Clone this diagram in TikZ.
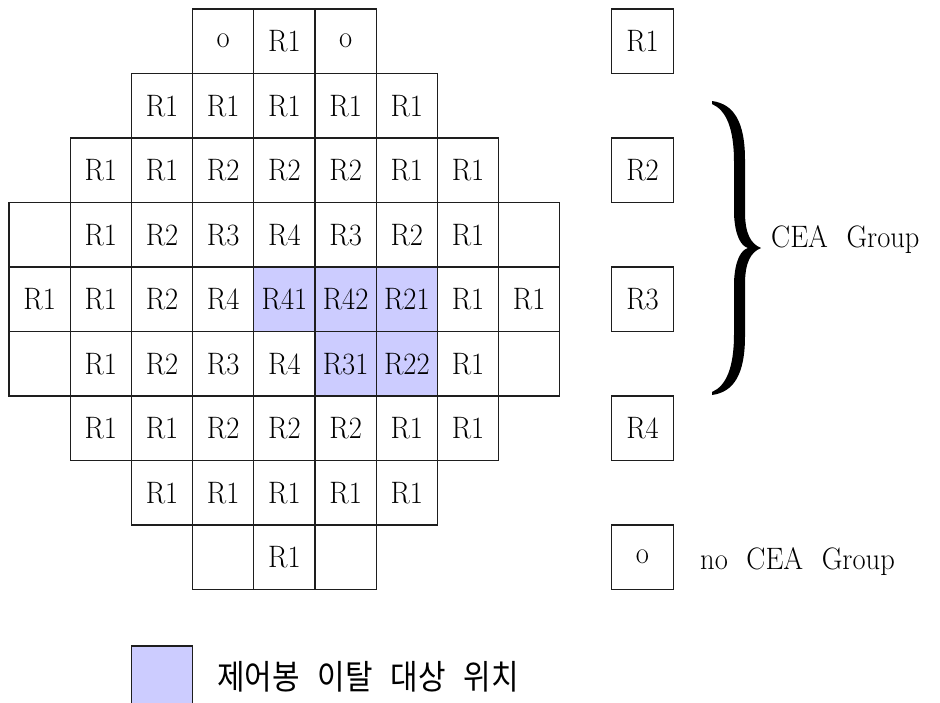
\documentclass[tikz,border=0pt]{standalone}
\usepackage{fontspec}
\setmainfont{Latin Modern Roman}[FakeStretch=0.92]
\newfontfamily\krfont{Noto Sans CJK KR}[FakeStretch=0.88]
\definecolor{lav}{RGB}{204,204,255}
\definecolor{ink}{RGB}{30,30,30}
\begin{document}
\begin{tikzpicture}[x=1pt,y=-1pt,
  cell/.style={draw=ink, line width=1.2pt, minimum width=61.2pt, minimum height=64.5pt, inner sep=0pt, font=\fontsize{31}{36}\selectfont},
  hit/.style={cell, fill=lav},
  legbox/.style={cell, minimum width=61.6pt},
  lbl/.style={inner sep=0pt, font=\fontsize{31}{36}\selectfont},
  krlbl/.style={inner sep=0pt, font=\krfont\fontsize{34}{38}\selectfont}]
\clip (0,0) rectangle (940,702);
\fill[white] (0,0) rectangle (940,702);
% grid
\foreach \c/\t in {3/o,4/R1,5/o}
  \node[cell] (g0-\c) at ({9+61.2*(\c+0.5)},{9+64.5*0.5}) {\t};
\foreach \c/\t in {2/R1,3/R1,4/R1,5/R1,6/R1}
  \node[cell] (g1-\c) at ({9+61.2*(\c+0.5)},{9+64.5*1.5}) {\t};
\foreach \c/\t in {1/R1,2/R1,3/R2,4/R2,5/R2,6/R1,7/R1}
  \node[cell] (g2-\c) at ({9+61.2*(\c+0.5)},{9+64.5*2.5}) {\t};
\foreach \c/\t in {0/{},1/R1,2/R2,3/R3,4/R4,5/R3,6/R2,7/R1,8/{}}
  \node[cell] (g3-\c) at ({9+61.2*(\c+0.5)},{9+64.5*3.5}) {\t};
\foreach \c/\t in {0/R1,1/R1,2/R2,3/R4,7/R1,8/R1}
  \node[cell] (g4-\c) at ({9+61.2*(\c+0.5)},{9+64.5*4.5}) {\t};
\foreach \c/\t in {0/{},1/R1,2/R2,3/R3,4/R4,7/R1,8/{}}
  \node[cell] (g5-\c) at ({9+61.2*(\c+0.5)},{9+64.5*5.5}) {\t};
\foreach \c/\t in {1/R1,2/R1,3/R2,4/R2,5/R2,6/R1,7/R1}
  \node[cell] (g6-\c) at ({9+61.2*(\c+0.5)},{9+64.5*6.5}) {\t};
\foreach \c/\t in {2/R1,3/R1,4/R1,5/R1,6/R1}
  \node[cell] (g7-\c) at ({9+61.2*(\c+0.5)},{9+64.5*7.5}) {\t};
\foreach \c/\t in {3/{},4/R1,5/{}}
  \node[cell] (g8-\c) at ({9+61.2*(\c+0.5)},{9+64.5*8.5}) {\t};
% shaded cells
\node[hit] (g4-4) at ({9+61.2*4.5},{9+64.5*4.5}) {R41};
\node[hit] (g4-5) at ({9+61.2*5.5},{9+64.5*4.5}) {R42};
\node[hit] (g4-6) at ({9+61.2*6.5},{9+64.5*4.5}) {R21};
\node[hit] (g5-5) at ({9+61.2*5.5},{9+64.5*5.5}) {R31};
\node[hit] (g5-6) at ({9+61.2*6.5},{9+64.5*5.5}) {R22};
% legend boxes
\node[legbox] (L1) at (642.5,{9+64.5*0.5}) {R1};
\node[legbox] (L2) at (642.5,{9+64.5*2.5}) {R2};
\node[legbox] (L3) at (642.5,{9+64.5*4.5}) {R3};
\node[legbox] (L4) at (642.5,{9+64.5*6.5}) {R4};
\node[legbox] (L5) at (642.5,{9+64.5*8.5}) {o};
% brace
\fill[black] (712,101) .. controls (734,104) and (745,122) .. (745,160) -- (745,212)
  .. controls (745,234) and (751,244) .. (761,248)
  .. controls (751,252) and (745,262) .. (745,284) -- (745,336)
  .. controls (745,374) and (734,392) .. (712,395) -- (712,392)
  .. controls (726,386) and (734,368) .. (734,334) -- (734,282)
  .. controls (735,260) and (741,250) .. (748,248)
  .. controls (741,246) and (735,236) .. (734,214) -- (734,162)
  .. controls (734,128) and (726,110) .. (712,104) -- cycle;
\node[lbl, anchor=base west] (cea) at (771,247) {CEA\hspace{0.6em}Group};
\node[lbl, anchor=base west] (nocea) at (700,569) {no\hspace{0.6em}CEA\hspace{0.6em}Group};
% bottom legend
\node[cell, fill=lav] (sw) at (161.8,{646+32.25}) {};
\node[krlbl, anchor=west] (kr) at (217,677) {제어봉\hspace{18pt}이탈\hspace{18pt}대상\hspace{18pt}위치};
\end{tikzpicture}
\end{document}
